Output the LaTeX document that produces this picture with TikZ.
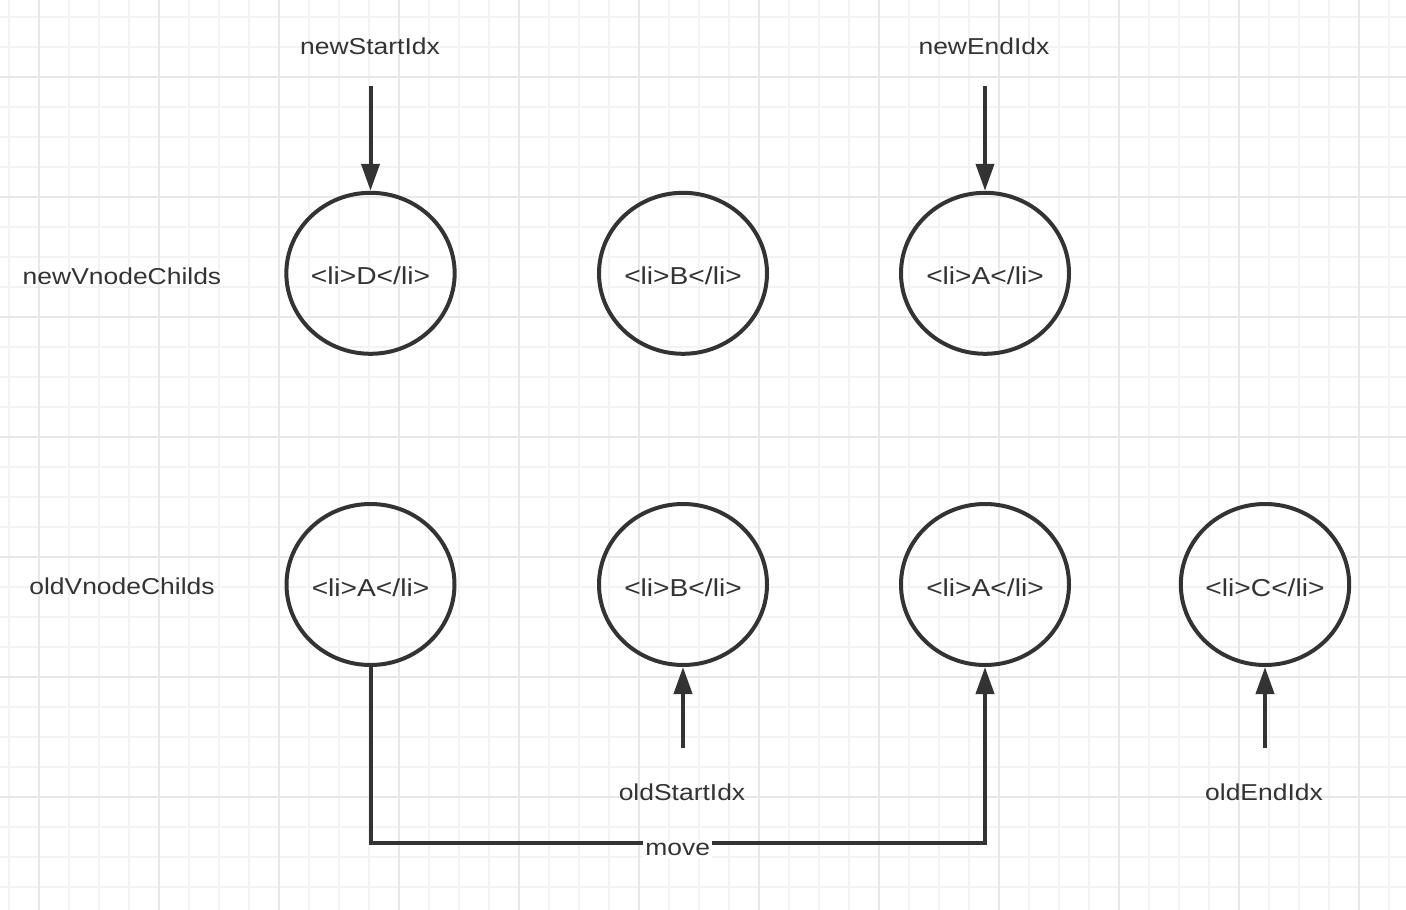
\documentclass[tikz,border=0pt]{standalone}
\usepackage{fontspec}
\setmainfont{Liberation Sans}[FakeStretch=1.15]
\usetikzlibrary{arrows.meta,shapes.geometric}
\definecolor{ink}{HTML}{333333}
\definecolor{gridminor}{HTML}{F3F3F3}
\definecolor{gridmajor}{HTML}{E8E8E8}
\tikzset{
  vnode/.style={ellipse, draw=ink, line width=4pt, minimum width=168pt, minimum height=161pt, inner sep=0pt, text=ink, text height=23pt, text depth=0pt, font=\fontsize{24.5}{28}\selectfont},
  lbl/.style={text=ink, font=\fontsize{23}{28}\selectfont, inner sep=1pt},
  arr/.style={draw=ink, line width=4pt, -{Triangle[length=27pt,width=18pt]}},
  link/.style={draw=ink, line width=4pt}
}
\begin{document}
\begin{tikzpicture}[x=1pt,y=-1pt]
\useasboundingbox (0,0) rectangle (1406,910);
\fill[white] (0,0) rectangle (1406,910);
% grid
\foreach \gx in {9,39,...,1406} \draw[gridminor, line width=1.6pt] (\gx,0) -- (\gx,910);
\foreach \gy in {16.7,46.7,...,910} \draw[gridminor, line width=1.6pt] (0,\gy) -- (1406,\gy);
\foreach \gx in {39,159,...,1406} \draw[gridmajor, line width=2pt] (\gx,0) -- (\gx,910);
\foreach \gy in {76.7,196.7,...,910} \draw[gridmajor, line width=2pt] (0,\gy) -- (1406,\gy);
% row labels
\node[lbl] (newrow) at (122,276) {newVnodeChilds};
\node[lbl] (oldrow) at (122,586) {oldVnodeChilds};
% new nodes
\node[vnode] (n1) at (370.5,273.3) {<li>D</li>};
\node[vnode] (n2) at (683,273.3) {<li>B</li>};
\node[vnode] (n3) at (985,273.3) {<li>A</li>};
% old nodes
\node[vnode] (o1) at (370.5,584.5) {<li>A</li>};
\node[vnode] (o2) at (683,584.5) {<li>B</li>};
\node[vnode] (o3) at (985,584.5) {<li>A</li>};
\node[vnode] (o4) at (1265,584.5) {<li>C</li>};
% index labels
\node[lbl] (nsi) at (370,46) {newStartIdx};
\node[lbl] (nei) at (984,46) {newEndIdx};
\node[lbl] (osi) at (682,792) {oldStartIdx};
\node[lbl] (oei) at (1264,792) {oldEndIdx};
% arrow start points
\coordinate (nsiA) at (370.5,86);
\coordinate (neiA) at (985,86);
\coordinate (osiA) at (683,748);
\coordinate (oeiA) at (1265,748);
\draw[arr] (nsiA) -- (n1.north);
\draw[arr] (neiA) -- (n3.north);
\draw[arr] (osiA) -- (o2.south);
\draw[arr] (oeiA) -- (o4.south);
% move
\coordinate (m1) at (370.5,843.3);
\coordinate (m2) at (985,843.3);
\draw[arr] (o1.south) -- (m1) -- node[lbl, fill=white, inner sep=2pt, yshift=-6pt] (mv) {move} (m2) -- (o3.south);
\end{tikzpicture}
\end{document}
